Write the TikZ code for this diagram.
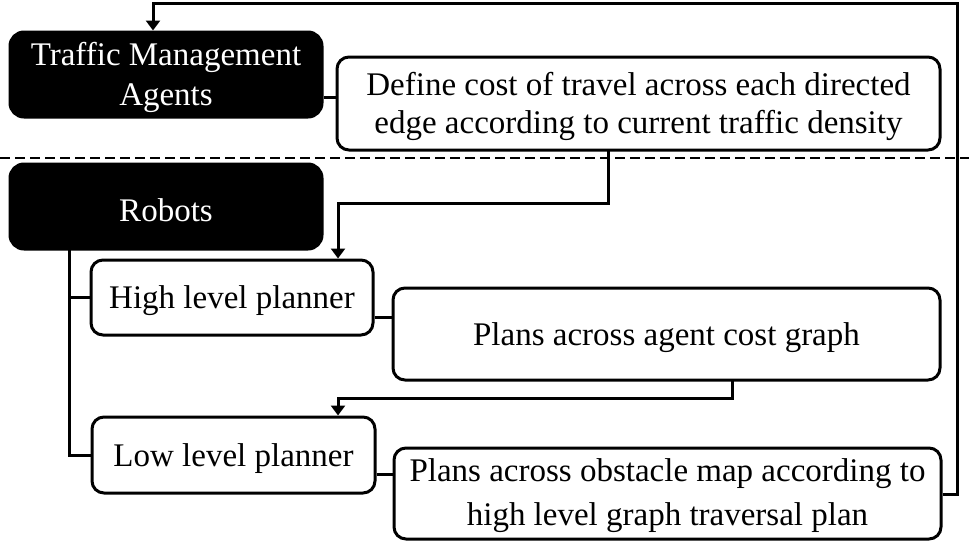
\documentclass[tikz,border=0pt]{standalone}
\usepackage{fontspec}
\setmainfont{Liberation Serif}
\usetikzlibrary{arrows.meta}
\newcommand\topstrut[1]{\rule{0pt}{#1}}
\begin{document}
\begin{tikzpicture}[x=1pt,y=-1pt,
  blackbox/.style={draw=black,fill=black,text=white,line width=3pt,rounded corners=14pt,inner sep=0pt,align=center,font=\fontsize{33}{40}\selectfont},
  whitebox/.style={draw=black,fill=white,text=black,line width=3pt,rounded corners=12pt,inner sep=0pt,align=center,font=\fontsize{33}{40}\selectfont},
  conn/.style={line width=3pt},
  arr/.style={line width=3pt,-{Triangle[width=14pt,length=10pt]}}]
\useasboundingbox (0,0) rectangle (969,541);
\node[blackbox,minimum width=312pt,minimum height=85pt] (tma) at (166,74.5) {\topstrut{30.1pt}Traffic Management\\Agents};
\node[whitebox,minimum width=603pt,minimum height=93pt,font=\fontsize{33}{38}\selectfont] (def) at (638.5,103.5) {\topstrut{29.6pt}Define cost of travel across each directed\\edge according to current traffic density};
\node[blackbox,minimum width=312pt,minimum height=85pt] (rob) at (166,206.5) {\topstrut{29.5pt}Robots};
\node[whitebox,minimum width=282pt,minimum height=75pt] (hlp) at (232,297.5) {\topstrut{30pt}High level planner};
\node[whitebox,minimum width=547pt,minimum height=92pt] (pac) at (666.5,334) {\topstrut{31pt}Plans across agent cost graph};
\node[whitebox,minimum width=283pt,minimum height=76pt] (llp) at (233.5,455) {\topstrut{30.6pt}Low level planner};
\node[whitebox,minimum width=547pt,minimum height=91pt,font=\fontsize{33}{44}\selectfont] (pob) at (667.5,493.5) {\topstrut{28.1pt}Plans across obstacle map according to\\high level graph traversal plan};
% dashed separator
\coordinate (dl) at (0,158);
\coordinate (dr) at (969,158);
\draw[line width=2.5pt,dash pattern=on 10pt off 5pt] (dl) -- (dr);
% coordinates
\coordinate (c1) at (608,150);
\coordinate (c2) at (338,203);
\coordinate (c3) at (338,0);
\coordinate (c4) at (732,380);
\coordinate (c5) at (338,398);
\coordinate (c6) at (69,249);
\coordinate (c7) at (69,297.5);
\coordinate (c8) at (0,97);
\coordinate (c9) at (0,317);
\coordinate (c10) at (0,474);
\coordinate (c11) at (957,494);
\coordinate (c12) at (957,3);
\coordinate (c13) at (153,3);
% connectors
\draw[conn] (tma.east |- c8) -- (def.west |- c8);
\draw[arr] (c1) |- (c2) -- (hlp.north -| c3);
\draw[conn] (hlp.east |- c9) -- (pac.west |- c9);
\draw[arr] (c4) |- (c5) -- (llp.north -| c5);
\draw[conn] (llp.east |- c10) -- (pob.west |- c10);
\draw[conn] (c6) |- (llp.west);
\draw[conn] (c7) -- (hlp.west);
\draw[arr] (pob.east |- c11) -- (c11) -- (c12) -- (c13) -- (tma.north -| c13);
\end{tikzpicture}
\end{document}
